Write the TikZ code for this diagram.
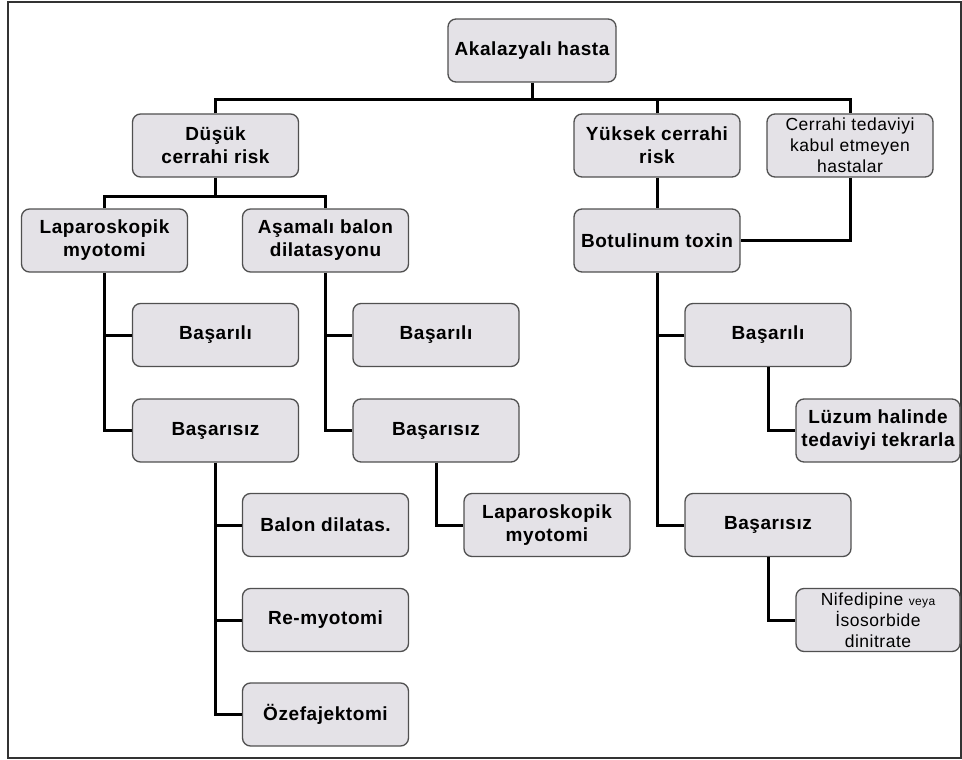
\documentclass[tikz,border=0pt]{standalone}
\usepackage{fontspec}
\setmainfont{Liberation Sans}[LetterSpace=3]
\definecolor{boxfill}{HTML}{E4E2E7}
\definecolor{boxline}{HTML}{505050}
\begin{document}
\begin{tikzpicture}[x=1pt,y=-1pt,
  box/.style={draw=boxline, line width=1.3pt, fill=boxfill, rounded corners=8pt,
    minimum width=166pt, minimum height=63pt, align=center, inner sep=1pt,
    font=\fontsize{19}{23}\selectfont\bfseries},
  thin/.style={font=\fontsize{17.5}{21}\selectfont},
  link/.style={line width=3pt, black}]
\useasboundingbox (0,0) rectangle (962,760);
\draw[line width=1.5pt, black!80] (8,2) rectangle (961,758);

\node[box, minimum width=168pt] (root) at (532,50.5) {Akalazyalı hasta};
\node[box] (dusuk) at (215.5,145.5) {Düşük\\cerrahi risk};
\node[box] (yuksek) at (657,145.5) {Yüksek cerrahi\\risk};
\node[box, thin] (cerrahi) at (850,145.5) {Cerrahi tedaviyi\\kabul etmeyen\\hastalar};
\node[box] (lap1) at (104.5,240.5) {Laparoskopik\\myotomi};
\node[box] (asamali) at (325.5,240.5) {Aşamalı balon\\dilatasyonu};
\node[box] (botu) at (657,240.5) {Botulinum toxin};
\node[box] (bas1) at (215.5,335) {Başarılı};
\node[box] (fail1) at (215.5,430.5) {Başarısız};
\node[box] (bas2) at (436,335) {Başarılı};
\node[box] (fail2) at (436,430.5) {Başarısız};
\node[box] (bal) at (325.5,525) {Balon dilatas.};
\node[box] (remy) at (325.5,620) {Re-myotomi};
\node[box] (ozef) at (325.5,714.5) {Özefajektomi};
\node[box] (lap2) at (547,525) {Laparoskopik\\myotomi};
\node[box] (bas3) at (768,335) {Başarılı};
\node[box] (fail3) at (768,525) {Başarısız};
\node[box, minimum width=164pt] (luzum) at (878,430.5) {Lüzum halinde\\tedaviyi tekrarla};
\node[box, thin, minimum width=164pt] (nife) at (878,620) {Nifedipine {\fontsize{12}{14}\selectfont veya}\\İsosorbide\\dinitrate};

\coordinate (busA) at (532,100);
\coordinate (busB) at (215.5,196);

\draw[link] (root.south) -- (busA);
\draw[link] (dusuk.north) |- (busA) -| (cerrahi.north);
\draw[link] (yuksek.north) -- (yuksek.north |- busA);
\draw[link] (dusuk.south) -- (busB);
\draw[link] (lap1.north) |- (busB) -| (asamali.north);
\draw[link] (yuksek.south) -- (botu.north);
\draw[link] (cerrahi.south) |- (botu.east);

\draw[link] (lap1.south) |- (fail1.west);
\draw[link] (bas1.west) -- (bas1.west -| lap1.south);
\draw[link] (asamali.south) |- (fail2.west);
\draw[link] (bas2.west) -- (bas2.west -| asamali.south);

\draw[link] (fail1.south) |- (ozef.west);
\draw[link] (bal.west) -- (bal.west -| fail1.south);
\draw[link] (remy.west) -- (remy.west -| fail1.south);
\draw[link] (fail2.south) |- (lap2.west);

\draw[link] (botu.south) |- (fail3.west);
\draw[link] (bas3.west) -- (bas3.west -| botu.south);
\draw[link] (bas3.south) |- (luzum.west);
\draw[link] (fail3.south) |- (nife.west);
\end{tikzpicture}
\end{document}
